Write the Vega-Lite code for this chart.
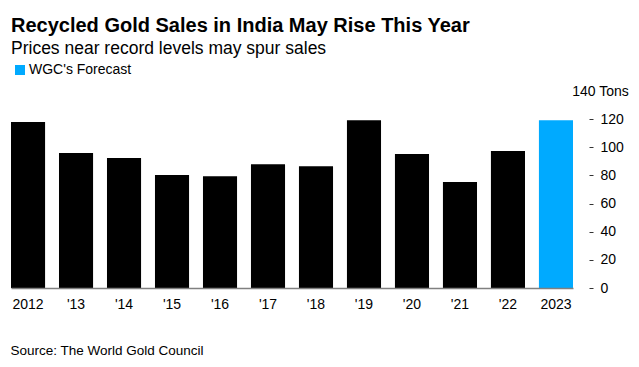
{
  "$schema": "https://vega.github.io/schema/vega-lite/v6.json",
  "width": 562,
  "height": 197,
  "autosize": {"type": "none"},
  "padding": {"left": 11, "top": 91, "right": 66, "bottom": 79},
  "background": "white",
  "title": {
    "text": "Recycled Gold Sales in India May Rise This Year",
    "subtitle": "Prices near record levels may spur sales",
    "anchor": "start",
    "frame": "group",
    "offset": 6,
    "font": "Liberation Sans",
    "fontSize": 20,
    "fontWeight": "bold",
    "color": "#000000",
    "subtitleFont": "Liberation Sans",
    "subtitleFontSize": 17.5,
    "subtitleColor": "#000000",
    "subtitlePadding": 4
  },
  "data": {
    "values": [
      {"year": "2012", "tons": 118, "type": "Actual"},
      {"year": "2013", "tons": 96, "type": "Actual"},
      {"year": "2014", "tons": 92.3, "type": "Actual"},
      {"year": "2015", "tons": 80.3, "type": "Actual"},
      {"year": "2016", "tons": 79.5, "type": "Actual"},
      {"year": "2017", "tons": 88, "type": "Actual"},
      {"year": "2018", "tons": 86.6, "type": "Actual"},
      {"year": "2019", "tons": 119.3, "type": "Actual"},
      {"year": "2020", "tons": 95.2, "type": "Actual"},
      {"year": "2021", "tons": 75.3, "type": "Actual"},
      {"year": "2022", "tons": 97.3, "type": "Actual"},
      {"year": "2023", "tons": 119.3, "type": "WGC's Forecast"}
    ]
  },
  "mark": {"type": "bar"},
  "encoding": {
    "x": {
      "field": "year",
      "type": "nominal",
      "sort": null,
      "scale": {"paddingInner": 0.29, "paddingOuter": 0},
      "axis": {
        "title": "Source: The World Gold Council",
        "titleFont": "Liberation Sans",
        "titleFontSize": 13.5,
        "titleFontWeight": "normal",
        "titleColor": "#000000",
        "titleAnchor": "start",
        "titleAlign": "left",
        "titleBaseline": "alphabetic",
        "titleX": -1,
        "titleY": 66,
        "labelExpr": "(datum.value == '2012' || datum.value == '2023') ? datum.value : \"'\" + slice(datum.value, 2)",
        "labelAngle": 0,
        "labelFont": "Liberation Sans",
        "labelFontSize": 14,
        "labelColor": "#000000",
        "labelPadding": 9,
        "ticks": false,
        "domainColor": "#808080",
        "domainWidth": 1.5,
        "zindex": 1
      }
    },
    "y": {
      "field": "tons",
      "type": "quantitative",
      "scale": {"domain": [0, 140]},
      "axis": {
        "orient": "right",
        "title": null,
        "values": [0, 20, 40, 60, 80, 100, 120, 140],
        "labelExpr": "datum.value == 140 ? '140 Tons' : datum.label",
        "labelFont": "Liberation Sans",
        "labelFontSize": 14,
        "labelColor": "#000000",
        "labelAlign": {"condition": {"test": "datum.value === 140", "value": "center"}, "value": "left"},
        "labelPadding": 7,
        "offset": 16,
        "tickSize": 4,
        "tickColor": "#333333",
        "tickOpacity": {"condition": {"test": "datum.value === 140", "value": 0}, "value": 1},
        "tickWidth": 1,
        "domain": false,
        "grid": false
      }
    },
    "color": {
      "field": "type",
      "type": "nominal",
      "scale": {"domain": ["Actual", "WGC's Forecast"], "range": ["#000000", "#00aaff"]},
      "legend": {
        "title": null,
        "values": ["WGC's Forecast"],
        "orient": "none",
        "legendX": 2,
        "legendY": -28,
        "padding": 0,
        "symbolType": "square",
        "symbolSize": 100,
        "symbolStrokeWidth": 0,
        "symbolOpacity": 1,
        "labelFont": "Liberation Sans",
        "labelFontSize": 14,
        "labelColor": "#000000",
        "labelOffset": 2
      }
    }
  },
  "config": {"view": {"stroke": null}}
}
